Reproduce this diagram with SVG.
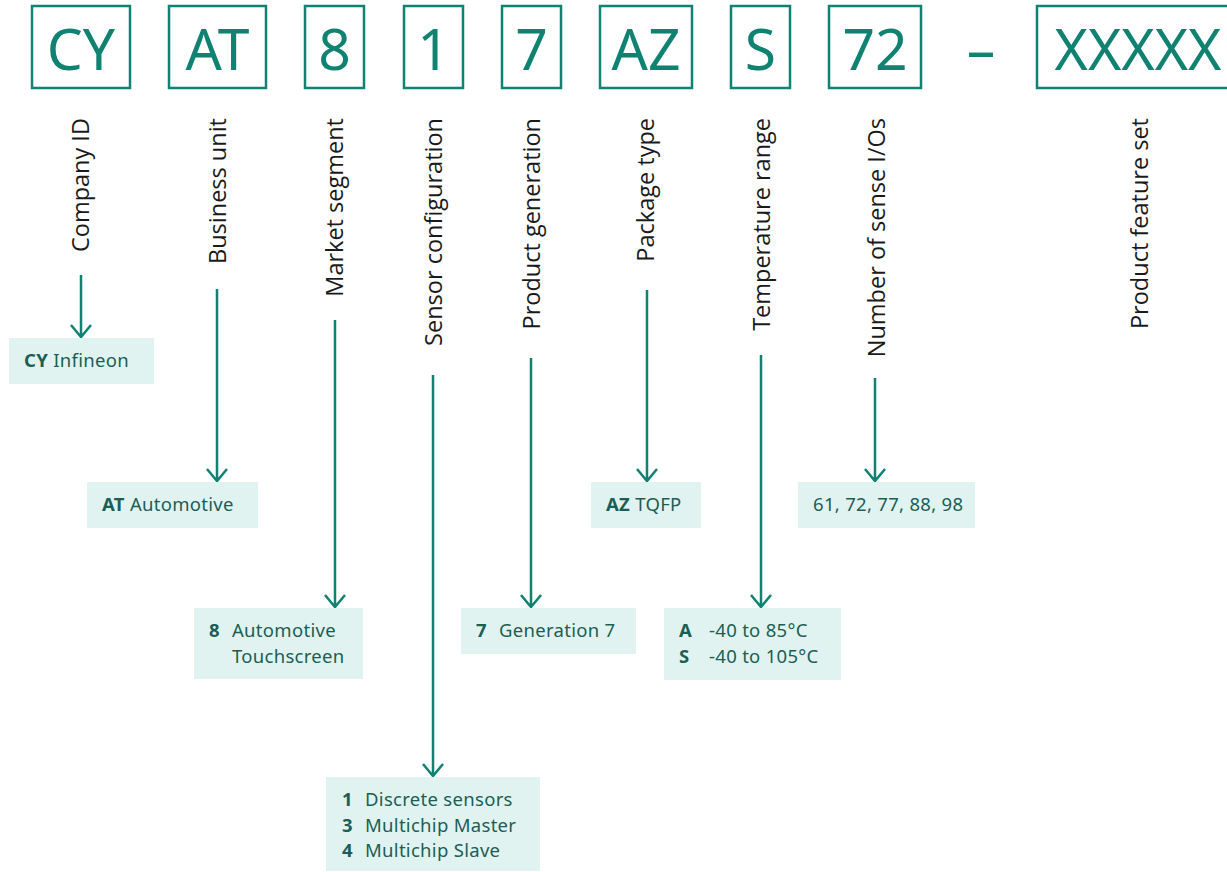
<svg xmlns="http://www.w3.org/2000/svg" width="1227" height="872" viewBox="0 0 1227 872">
<style>
.code{fill:none;stroke:#0f8272;stroke-width:2.5}
.ct{font-family:"Noto Sans",sans-serif;font-size:57px;fill:#0f8272;text-anchor:middle}
.lbl{font-family:"Open Sans",sans-serif;font-size:23.5px;fill:#1a1a1a;text-anchor:end}
.box{fill:#e0f3f1}
.bt{font-family:"Noto Sans",sans-serif;font-size:18.5px;letter-spacing:0.3px;fill:#1b5e55}
.b{font-weight:bold}
.ln{fill:none;stroke:#0f8272;stroke-width:2.5}
</style>
<g id="codes">
<g id="code-CY"><rect class="code" x="32" y="6" width="98" height="82"/><text class="ct" x="81" y="70">CY</text></g>
<g id="code-AT"><rect class="code" x="169" y="6" width="97" height="82"/><text class="ct" x="217.5" y="70">AT</text></g>
<g id="code-8"><rect class="code" x="305" y="6" width="59" height="82"/><text class="ct" x="334.5" y="70">8</text></g>
<g id="code-1"><rect class="code" x="404" y="6" width="59" height="82"/><text class="ct" x="433.5" y="70">1</text></g>
<g id="code-7"><rect class="code" x="502" y="6" width="59" height="82"/><text class="ct" x="531.5" y="70">7</text></g>
<g id="code-AZ"><rect class="code" x="600" y="6" width="92" height="82"/><text class="ct" x="646" y="70">AZ</text></g>
<g id="code-S"><rect class="code" x="731" y="6" width="59" height="82"/><text class="ct" x="760.5" y="70">S</text></g>
<g id="code-72"><rect class="code" x="829" y="6" width="92" height="82"/><text class="ct" x="875" y="70">72</text></g>
<g id="dash"><text class="ct" x="981" y="70">–</text></g>
<g id="code-XXXXX"><rect class="code" x="1037" y="6" width="210" height="82"/><text class="ct" x="1138" y="70">XXXXX</text></g>
</g>
<g id="labels">
<text class="lbl" transform="translate(89,118) rotate(-90)">Company ID</text>
<text class="lbl" transform="translate(226,118) rotate(-90)">Business unit</text>
<text class="lbl" transform="translate(343,118) rotate(-90)">Market segment</text>
<text class="lbl" transform="translate(442,118) rotate(-90)">Sensor configuration</text>
<text class="lbl" transform="translate(540,118) rotate(-90)">Product generation</text>
<text class="lbl" transform="translate(654,118) rotate(-90)">Package type</text>
<text class="lbl" transform="translate(770,118) rotate(-90)">Temperature range</text>
<text class="lbl" transform="translate(885,118) rotate(-90)">Number of sense I/Os</text>
<text class="lbl" transform="translate(1148,118) rotate(-90)">Product feature set</text>
</g>
<g id="connectors">
<path class="ln" d="M81 275V337M71 325L81 337L91 325"/>
<path class="ln" d="M217 289V481M207 469L217 481L227 469"/>
<path class="ln" d="M335 320V607M325 595L335 607L345 595"/>
<path class="ln" d="M433 375V776M423 764L433 776L443 764"/>
<path class="ln" d="M531 358V607M521 595L531 607L541 595"/>
<path class="ln" d="M647 290V481M637 469L647 481L657 469"/>
<path class="ln" d="M761 355V607M751 595L761 607L771 595"/>
<path class="ln" d="M875 378V481M865 469L875 481L885 469"/>
</g>
<g id="box-CY"><rect class="box" x="9" y="338" width="145" height="46"/><text class="bt" x="24" y="367"><tspan class="b">CY</tspan> Infineon</text></g>
<g id="box-AT"><rect class="box" x="87" y="482" width="171" height="46"/><text class="bt" x="102" y="511"><tspan class="b">AT</tspan> Automotive</text></g>
<g id="box-8"><rect class="box" x="194" y="608" width="169" height="71"/><text class="bt b" x="209" y="637">8</text><text class="bt" x="232" y="637">Automotive</text><text class="bt" x="232" y="663">Touchscreen</text></g>
<g id="box-1"><rect class="box" x="326" y="777" width="214" height="94"/>
<text class="bt b" x="342" y="806">1</text><text class="bt" x="365" y="806">Discrete sensors</text>
<text class="bt b" x="342" y="832">3</text><text class="bt" x="365" y="832">Multichip Master</text>
<text class="bt b" x="342" y="857">4</text><text class="bt" x="365" y="857">Multichip Slave</text></g>
<g id="box-7"><rect class="box" x="461" y="608" width="175" height="46"/><text class="bt b" x="476" y="637">7</text><text class="bt" x="499" y="637">Generation 7</text></g>
<g id="box-AZ"><rect class="box" x="591" y="482" width="110" height="46"/><text class="bt" x="606" y="511"><tspan class="b">AZ</tspan> TQFP</text></g>
<g id="box-S"><rect class="box" x="664" y="608" width="177" height="72"/><text class="bt b" x="679" y="637">A</text><text class="bt" x="709" y="637">-40 to 85°C</text><text class="bt b" x="679" y="663">S</text><text class="bt" x="709" y="663">-40 to 105°C</text></g>
<g id="box-72"><rect class="box" x="798" y="482" width="177" height="46"/><text class="bt" x="813" y="511">61, 72, 77, 88, 98</text></g>
</svg>
